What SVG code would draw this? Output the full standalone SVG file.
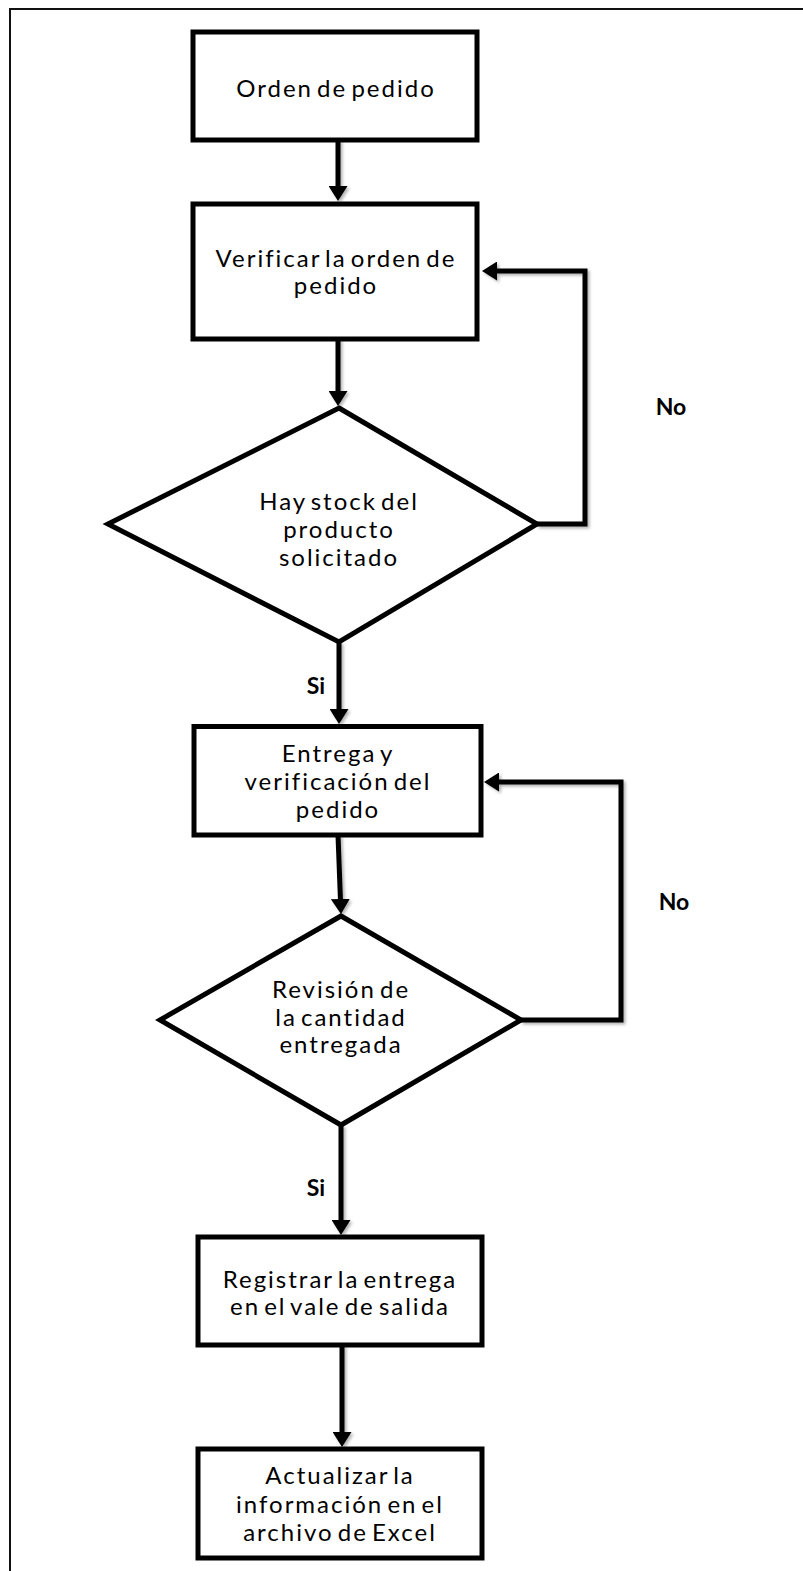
<svg xmlns="http://www.w3.org/2000/svg" width="803" height="1571" viewBox="0 0 803 1571">
  <defs>
    <style>
      .shape { fill: #ffffff; stroke: #000000; stroke-width: 5; stroke-linejoin: miter; }
      .edge { fill: none; stroke: #000000; stroke-width: 5; stroke-linejoin: miter; }
      .label { font-family: Lato, "Open Sans", "Liberation Sans", sans-serif; font-size: 24px; fill: #000000; text-anchor: middle; letter-spacing: 2px; word-spacing: -4px; }
      .tag { font-family: Lato, "Open Sans", "Liberation Sans", sans-serif; font-size: 23px; font-weight: bold; fill: #000000; text-anchor: middle; }
    </style>
    <marker id="arrow" markerUnits="userSpaceOnUse" viewBox="0 0 15 19" refX="7" refY="9.5" markerWidth="15" markerHeight="19" orient="auto">
      <path d="M0,0 L15,9.5 L0,19 z" fill="#000000"/>
    </marker>
    <filter id="shadow" x="-20%" y="-20%" width="140%" height="140%">
      <feDropShadow dx="2" dy="2" stdDeviation="1.5" flood-color="#000000" flood-opacity="0.3"/>
    </filter>
  </defs>

  <!-- page frame -->
  <path d="M10,1571 L10,9 L803,9" fill="none" stroke="#111111" stroke-width="2"/>

  <!-- connectors -->
  <g id="connectors" filter="url(#shadow)">
    <path class="edge" d="M338,140 L338,193" marker-end="url(#arrow)"/>
    <path class="edge" d="M338,339 L338,398" marker-end="url(#arrow)"/>
    <path class="edge" d="M537,524 L585,524 L585,271 L490,271" marker-end="url(#arrow)"/>
    <path class="edge" d="M339,642 L339,716" marker-end="url(#arrow)"/>
    <path class="edge" d="M338,835 L340.7,906" marker-end="url(#arrow)"/>
    <path class="edge" d="M521,1020 L621,1020 L621,782 L492,782" marker-end="url(#arrow)"/>
    <path class="edge" d="M341,1125 L341,1227" marker-end="url(#arrow)"/>
    <path class="edge" d="M342,1345 L342,1439" marker-end="url(#arrow)"/>
  </g>

  <!-- connector labels -->
  <g id="labels">
    <text class="tag" x="671" y="415">No</text>
    <text class="tag" x="316" y="694">Si</text>
    <text class="tag" x="674" y="910">No</text>
    <text class="tag" x="316" y="1196">Si</text>
  </g>

  <g id="orden">
    <rect class="shape" x="193" y="32" width="284" height="108"/>
    <text class="label" x="336" y="97">Orden de pedido</text>
  </g>

  <g id="verificar">
    <rect class="shape" x="193" y="204" width="284" height="135"/>
    <text class="label" x="336" y="267">Verificar la orden de</text>
    <text class="label" x="336" y="294">pedido</text>
  </g>

  <g id="stock">
    <polygon class="shape" points="339,408 537,524 339,642 108,524"/>
    <text class="label" x="339" y="510">Hay stock del</text>
    <text class="label" x="339" y="538">producto</text>
    <text class="label" x="339" y="566">solicitado</text>
  </g>

  <g id="entrega">
    <rect class="shape" x="194" y="726.5" width="287" height="108.5"/>
    <text class="label" x="338" y="762">Entrega y</text>
    <text class="label" x="338" y="790">verificación del</text>
    <text class="label" x="338" y="818">pedido</text>
  </g>

  <g id="revision">
    <polygon class="shape" points="341,916 521,1020 341,1125 160,1020"/>
    <text class="label" x="341" y="998">Revisión de</text>
    <text class="label" x="341" y="1026">la cantidad</text>
    <text class="label" x="341" y="1053">entregada</text>
  </g>

  <g id="registrar">
    <rect class="shape" x="198" y="1237" width="284" height="108"/>
    <text class="label" x="340" y="1288">Registrar la entrega</text>
    <text class="label" x="340" y="1315">en el vale de salida</text>
  </g>

  <g id="actualizar">
    <rect class="shape" x="198" y="1449" width="284" height="109"/>
    <text class="label" x="340" y="1484">Actualizar la</text>
    <text class="label" x="340" y="1513">información en el</text>
    <text class="label" x="340" y="1541">archivo de Excel</text>
  </g>
</svg>
